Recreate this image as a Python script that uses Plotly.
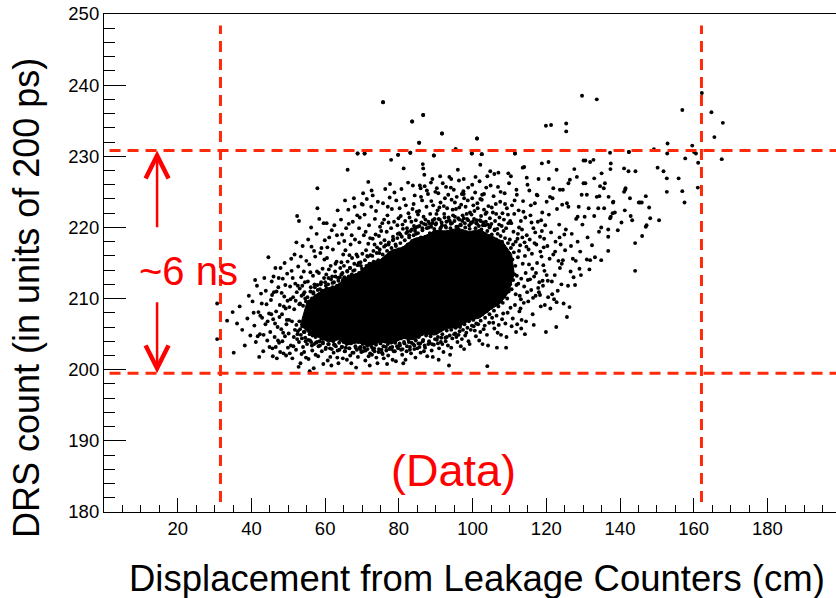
import plotly.graph_objects as go

# ---------------- data ----------------
# region of the cloud where the dots merge into solid black
core_x = [53.3, 56, 58.5, 61, 63.5, 66, 69, 72, 75, 78, 81, 84, 87, 90, 93, 96, 99, 102, 105, 107.5, 109.8,
          111.3, 110.6,
          108, 105, 102, 99, 96, 93, 90, 87, 84, 81, 78, 75, 72, 69, 66, 63, 60, 57, 55]
core_y = [206.3, 204.9, 204.5, 203.9, 204.2, 203.5, 203.8, 203.3, 203.9, 203.6, 204.4, 204.2, 205.0, 204.9, 205.8, 205.9, 206.9, 207.3, 208.5, 209.3, 210.9,
          213.5, 216.2,
          218.1, 218.8, 219.7, 219.4, 219.9, 219.5, 219.6, 218.8, 218.4, 217.2, 216.8, 215.5, 215.0, 213.6, 213.1, 211.8, 211.4, 210.4, 209.4]

# individual events at the edge of the dense core
edge_pts = [
    (52.2,206.3),(52.6,205.4),(53.0,206.8),(53.4,204.9),(53.8,206.1),(54.2,205.3),(54.6,204.5),(55.0,205.9),(55.4,204.2),(55.8,205.0),(56.2,203.9),(56.6,204.8),(57.0,203.6),(57.4,204.6),(57.8,203.9),(58.2,204.9),(58.6,203.4),(59.0,204.4),(59.4,203.7),(59.8,204.8),
    (60.2,203.1),(60.6,204.2),(61.0,203.6),(61.4,204.5),(61.8,202.9),(62.2,204.0),(62.6,203.5),(63.0,204.4),(63.4,202.7),(63.8,203.8),(64.2,204.3),(64.6,203.2),(65.0,203.9),(65.4,202.6),(65.8,203.6),(66.2,204.0),(66.6,203.0),(67.0,203.7),(67.4,202.4),(67.8,204.1),
    (68.2,203.3),(68.6,202.8),(69.0,203.9),(69.4,203.1),(69.8,202.5),(70.2,203.6),(70.6,204.1),(71.0,202.7),(71.4,203.4),(71.8,203.9),(72.2,202.3),(72.6,203.2),(73.0,203.8),(73.4,202.6),(73.8,203.5),(74.2,204.2),(74.6,202.9),(75.0,203.7),(75.4,202.4),(75.8,203.3),
    (76.2,204.0),(76.6,202.7),(77.0,203.6),(77.4,202.9),(77.8,203.9),(78.2,203.2),(78.6,202.6),(79.0,203.8),(79.4,204.3),(79.8,203.0),(80.2,203.7),(80.6,204.4),(81.0,202.9),(81.4,203.9),(81.8,204.6),(82.2,203.3),(82.6,204.2),(83.0,202.8),(83.4,203.8),(83.8,204.5),
    (84.2,203.4),(84.6,204.1),(85.0,203.0),(85.4,204.6),(85.8,203.7),(86.2,205.0),(86.6,204.2),(87.0,203.4),(87.4,204.8),(87.8,205.3),(88.2,204.0),(88.6,204.7),(89.0,203.6),(89.4,205.1),(89.8,204.3),(90.2,205.2),(90.6,204.6),(91.0,205.7),(91.4,203.9),(91.8,205.0),
    (92.2,205.9),(92.6,204.5),(93.0,205.5),(93.4,206.1),(93.8,204.8),(94.2,205.6),(94.6,206.3),(95.0,205.0),(95.4,205.9),(95.8,206.5),(96.2,204.9),(96.6,206.0),(97.0,206.8),(97.4,205.6),(97.8,206.4),(98.2,207.1),(98.6,205.9),(99.0,206.8),(99.4,207.3),(99.8,206.2),
    (100.2,207.0),(100.6,207.7),(101.0,206.5),(101.4,207.4),(101.8,208.1),(102.2,206.9),(102.6,207.8),(103.0,208.6),(103.4,207.3),(103.8,208.2),(104.2,209.0),(104.6,207.8),(105.0,208.7),(105.4,209.5),(105.8,208.3),(106.2,209.2),(106.6,210.0),(107.0,208.9),(107.4,209.7),(107.8,210.5),
    (108.2,209.4),(108.6,210.3),(109.0,211.1),(109.4,210.0),(109.8,211.0),(110.2,212.0),(110.6,211.3),(111.0,212.6),(111.4,213.4),
    (53.2,209.3),(53.6,210.4),(54.0,209.0),(54.4,210.9),(54.8,209.6),(55.2,210.2),(55.6,209.2),(56.0,211.0),(56.4,210.0),(56.8,210.7),(57.2,211.6),(57.6,210.3),(58.0,211.2),(58.4,210.6),(58.8,212.0),(59.2,211.1),(59.6,210.9),(60.0,212.3),(60.4,211.4),(60.8,212.0),
    (61.2,211.2),(61.6,212.7),(62.0,211.6),(62.4,212.3),(62.8,213.1),(63.2,211.8),(63.6,212.5),(64.0,211.9),(64.4,213.4),(64.8,212.6),(65.2,213.0),(65.6,212.5),(66.0,213.8),(66.4,213.1),(66.8,214.3),(67.2,213.4),(67.6,212.9),(68.0,214.0),(68.4,213.3),(68.8,214.7),
    (69.2,213.6),(69.6,215.1),(70.0,214.2),(70.4,213.8),(70.8,215.4),(71.2,214.6),(71.6,215.9),(72.0,214.9),(72.4,214.5),(72.8,216.0),(73.2,215.2),(73.6,214.8),(74.0,216.4),(74.4,215.4),(74.8,216.9),(75.2,215.1),(75.6,216.2),(76.0,217.3),(76.4,215.8),(76.8,216.7),
    (77.2,217.6),(77.6,216.4),(78.0,217.1),(78.4,218.2),(78.8,216.6),(79.2,217.4),(79.6,218.5),(80.0,216.9),(80.4,217.8),(80.8,218.7),(81.2,217.1),(81.6,218.2),(82.0,219.2),(82.4,217.6),(82.8,218.6),(83.2,219.5),(83.6,218.1),(84.0,218.9),(84.4,219.9),(84.8,218.3),
    (85.2,219.2),(85.6,220.2),(86.0,218.6),(86.4,219.6),(86.8,220.5),(87.2,218.7),(87.6,219.9),(88.0,220.8),(88.4,219.2),(88.8,220.1),(89.2,221.0),(89.6,219.4),(90.0,220.4),(90.4,219.3),(90.8,221.2),(91.2,219.8),(91.6,220.7),(92.0,219.2),(92.4,221.4),(92.8,220.0),
    (93.2,219.4),(93.6,221.0),(94.0,219.9),(94.4,220.6),(94.8,219.5),(95.2,221.5),(95.6,220.1),(96.0,219.7),(96.4,221.1),(96.8,220.3),(97.2,219.5),(97.6,221.3),(98.0,220.0),(98.4,219.3),(98.8,221.0),(99.2,219.8),(99.6,220.6),(100.0,219.2),(100.4,221.2),(100.8,219.9),
    (101.2,220.5),(101.6,219.4),(102.0,221.0),(102.4,219.7),(102.8,220.3),(103.2,219.1),(103.6,220.8),(104.0,219.5),(104.4,218.8),(104.8,220.2),(105.2,219.0),(105.6,218.5),(106.0,219.7),(106.4,218.3),(106.8,219.1),(107.2,217.9),(107.6,218.8),(108.0,218.0),(108.4,217.4),(108.8,218.5),
    (109.2,216.9),(109.6,217.8),(110.0,216.3),(110.4,217.1),(110.8,215.5),(111.2,216.5),(111.6,214.6),(112.0,213.2),(112.3,215.8),(111.9,211.9),
]

# individual events in the rest of the band (x = displacement [cm], y = DRS count)
cloud_pts = [
    (30.7,209.3),(30.7,204.3),(34.9,208.1),(35.2,202.4),(36.8,208.9),(37.5,205.6),(38.2,203.4),(38.9,207.2),(39.3,210.4),(36.1,206.5),(39.7,204.8),(33.4,206.9),
    (40.3,209.6),(40.8,206.2),(41.2,203.9),(41.5,211.8),(41.9,208.1),(42.3,205.0),(42.6,210.7),(42.9,207.3),(43.2,202.6),(43.5,212.9),(43.8,206.4),(44.1,209.2),(44.3,204.1),(44.6,215.8),(44.8,207.9),(40.6,208.0),(41.0,212.6),(41.7,204.7),(42.1,201.8),(42.8,209.3),(43.3,204.9),(43.9,211.1),(44.4,206.8),(44.9,203.2),(42.4,207.6),
    (45.1,205.3),(45.3,209.8),(45.5,212.4),(45.7,203.0),(45.9,207.1),(46.1,210.9),(46.3,204.6),(46.5,214.3),(46.7,208.2),(46.9,201.6),(47.1,206.0),(47.3,211.6),(47.5,203.8),(47.7,209.1),(47.9,214.3),(48.1,205.7),(48.3,207.8),(48.5,212.8),(48.7,202.3),(48.9,210.3),(49.1,204.7),(49.3,208.6),(49.5,206.4),(49.7,213.5),(49.9,203.1),(45.4,207.8),(45.8,201.9),(46.0,213.1),(46.4,206.5),(46.8,211.0),(47.2,204.1),(47.6,207.4),(47.8,202.5),(48.2,210.8),(48.6,205.2),(48.8,208.9),(49.2,211.9),(49.4,202.0),(49.6,207.0),(49.8,209.7),(45.6,210.5),(46.6,203.2),(47.4,212.9),(48.4,204.0),(49.0,215.0),
    (50.1,205.1),(50.3,208.8),(50.5,211.7),(50.7,203.4),(50.9,213.9),(51.1,201.6),(51.3,210.2),(51.5,204.6),(51.7,216.2),(51.9,212.1),(52.1,202.8),(52.3,210.9),(52.5,205.0),(52.7,214.5),(52.9,203.9),(53.1,211.4),(53.3,200.9),(53.5,213.0),(53.7,204.4),(53.9,217.4),(54.1,210.6),(54.3,202.5),(54.5,212.3),(54.7,204.0),(54.9,215.3),(50.2,207.0),(50.4,202.3),(50.6,209.9),(50.8,215.6),(51.0,206.8),(51.2,212.9),(51.4,203.3),(51.6,208.5),(51.8,205.6),(52.0,209.7),(52.2,217.9),(52.4,204.3),(52.6,211.8),(52.8,200.4),(53.0,209.2),(53.2,205.7),(53.4,215.9),(53.6,202.2),(53.8,211.8),(54.0,203.2),(54.2,213.8),(54.4,205.3),(54.6,210.0),(54.8,201.7),(52.4,221.6),(52.9,220.9),
    (55.1,203.6),(55.3,212.4),(55.5,201.5),(55.7,214.8),(55.9,204.1),(56.1,211.6),(56.3,217.3),(56.5,202.7),(56.7,213.2),(56.9,200.2),(57.1,212.0),(57.3,215.9),(57.5,203.8),(57.7,219.1),(57.9,211.9),(58.1,201.9),(58.3,213.6),(58.5,204.0),(58.7,216.4),(58.9,212.3),(59.1,202.6),(59.3,214.2),(59.5,200.8),(59.7,212.9),(59.9,218.2),(55.2,206.9),(55.6,209.6),(55.8,199.8),(56.0,213.7),(56.4,203.4),(56.8,210.9),(57.0,216.7),(57.4,202.1),(57.8,213.8),(58.2,203.3),(58.6,211.3),(59.0,217.1),(59.4,203.9),(59.8,215.5),(57.9,225.5),(57.9,222.7),(56.2,220.0),(58.4,221.2),(55.4,218.3),(59.6,220.6),
    (60.1,202.9),(60.3,213.4),(60.5,215.7),(60.7,201.3),(60.9,212.9),(61.1,218.6),(61.3,203.0),(61.5,214.6),(61.7,200.6),(61.9,213.1),(62.1,216.9),(62.3,202.4),(62.5,220.3),(62.7,213.8),(62.9,203.3),(63.1,215.2),(63.3,201.7),(63.5,212.9),(63.7,217.8),(63.9,202.8),(64.1,214.3),(64.3,221.1),(64.5,203.2),(64.7,213.6),(64.9,216.2),(60.2,211.8),(60.6,217.2),(60.8,203.6),(61.0,214.1),(61.4,201.8),(61.8,219.6),(62.0,212.2),(62.4,203.5),(62.8,214.9),(63.2,218.9),(63.6,200.9),(64.0,213.0),(64.4,215.1),(64.8,201.6),(60.4,220.6),(63.4,222.4),(64.6,219.0),
    (65.1,214.6),(65.3,202.6),(65.5,216.8),(65.7,219.9),(65.9,201.4),(66.1,215.2),(66.3,222.5),(66.5,203.0),(66.7,214.3),(66.9,217.6),(67.1,200.9),(67.3,215.7),(67.5,220.8),(67.7,202.4),(67.9,214.9),(68.1,218.3),(68.3,203.1),(68.5,216.2),(68.7,221.7),(68.9,201.8),(69.1,215.0),(69.3,217.9),(69.5,202.9),(69.7,214.6),(69.9,223.3),(65.2,218.1),(65.6,203.1),(66.0,213.9),(66.4,220.5),(66.8,202.0),(67.2,218.9),(67.6,213.9),(68.0,222.9),(68.4,200.3),(68.8,215.9),(69.2,219.9),(69.6,203.2),(66.1,228.1),(65.4,223.8),(67.8,224.1),(69.4,221.4),(66.6,216.1),
    (70.1,216.3),(70.3,202.6),(70.5,218.9),(70.7,221.8),(70.9,201.3),(71.1,216.8),(71.3,224.0),(71.5,202.9),(71.7,217.7),(71.9,220.3),(72.1,200.6),(72.3,216.1),(72.5,222.9),(72.7,202.1),(72.9,218.4),(73.1,216.7),(73.3,203.0),(73.5,221.2),(73.7,219.0),(73.9,201.7),(74.1,217.2),(74.3,223.6),(74.5,202.5),(74.7,216.4),(74.9,220.1),(70.2,223.2),(70.6,203.1),(71.0,219.4),(71.4,216.0),(71.8,201.9),(72.2,218.5),(72.6,225.2),(73.0,202.8),(73.4,217.6),(73.8,222.3),(74.2,200.9),(74.6,218.8),(70.3,224.8),(72.9,224.5),(71.7,226.4),(68.8,230.4),(70.7,230.4),
    (75.1,217.8),(75.3,202.8),(75.5,220.6),(75.7,223.4),(75.9,201.6),(76.1,218.2),(76.3,225.4),(76.5,203.2),(76.7,219.4),(76.9,221.7),(77.1,202.0),(77.3,217.9),(77.5,224.2),(77.7,203.1),(77.9,219.9),(78.1,222.6),(78.3,201.4),(78.5,218.3),(78.7,220.8),(78.9,202.6),(79.1,217.6),(79.3,223.8),(79.5,203.3),(79.7,219.1),(79.9,221.3),(75.2,219.5),(75.6,202.2),(76.0,221.1),(76.4,217.5),(76.8,200.8),(77.2,220.7),(77.6,226.1),(78.0,202.9),(78.4,218.7),(78.8,224.9),(79.2,201.2),(79.6,220.3),(77.9,229.5),(75.7,237.6),(79.8,230.2),(77.0,222.9),
    (80.1,219.2),(80.3,203.4),(80.5,221.6),(80.7,225.4),(80.9,202.1),(81.1,219.8),(81.3,228.3),(81.5,203.7),(81.7,220.9),(81.9,223.1),(82.1,202.6),(82.3,219.4),(82.5,226.3),(82.7,203.9),(82.9,221.4),(83.1,230.5),(83.3,202.3),(83.5,219.7),(83.7,222.6),(83.9,203.6),(84.1,220.2),(84.3,224.5),(84.5,201.7),(84.7,219.1),(84.9,222.2),(80.2,222.7),(80.6,202.8),(81.0,220.4),(81.4,224.0),(81.8,201.4),(82.2,219.9),(82.6,222.0),(83.0,203.2),(83.4,220.8),(83.8,225.9),(84.2,202.9),(84.6,221.0),(83.6,234.9),(84.0,223.3),(81.2,200.9),(82.8,218.9),(84.4,219.5),(80.4,219.0),
    (85.1,220.1),(85.3,203.7),(85.5,222.3),(85.7,225.9),(85.9,202.4),(86.1,220.7),(86.3,223.8),(86.5,204.0),(86.7,221.5),(86.9,227.4),(87.1,203.1),(87.3,220.4),(87.5,222.9),(87.7,201.9),(87.9,224.7),(88.1,220.0),(88.3,203.8),(88.5,221.9),(88.7,226.3),(88.9,202.7),(89.1,220.6),(89.3,223.1),(89.5,203.5),(89.7,221.2),(89.9,225.0),(85.2,221.8),(85.6,203.2),(86.0,224.3),(86.4,219.9),(86.8,202.6),(87.2,221.1),(87.6,225.2),(88.0,203.6),(88.4,220.5),(88.8,223.7),(89.2,201.8),(89.6,219.8),(85.5,231.9),(86.6,235.8),(89.5,230.1),(86.5,228.9),(86.6,228.3),(85.9,225.5),(87.0,225.8),(89.1,226.8),
    (90.1,220.6),(90.3,204.2),(90.5,222.4),(90.7,224.8),(90.9,203.0),(91.1,221.1),(91.3,223.5),(91.5,204.5),(91.7,220.3),(91.9,226.2),(92.1,202.5),(92.3,221.9),(92.5,224.1),(92.7,204.0),(92.9,220.8),(93.1,222.7),(93.3,203.4),(93.5,221.4),(93.7,227.1),(93.9,202.1),(94.1,220.5),(94.3,223.9),(94.5,204.4),(94.7,221.7),(94.9,225.3),(90.2,221.9),(90.6,203.7),(91.0,222.8),(91.4,220.0),(91.8,203.6),(92.2,223.0),(92.6,220.2),(93.0,204.6),(93.4,224.6),(93.8,220.9),(94.2,203.1),(94.6,222.5),(91.7,233.2),(91.2,227.2),(90.3,225.5),(92.8,225.7),(94.1,225.6),(94.2,226.8),(90.8,201.4),(93.6,200.6),
    (95.1,220.9),(95.3,205.1),(95.5,222.6),(95.7,224.3),(95.9,203.9),(96.1,221.3),(96.3,226.6),(96.5,205.4),(96.7,220.4),(96.9,223.2),(97.1,204.3),(97.3,221.7),(97.5,225.1),(97.7,202.9),(97.9,220.6),(98.1,222.9),(98.3,205.2),(98.5,221.2),(98.7,223.8),(98.9,204.0),(99.1,220.3),(99.3,222.1),(99.5,205.6),(99.7,221.8),(99.9,226.0),(95.2,223.5),(95.6,204.6),(96.0,220.1),(96.4,222.8),(96.8,203.3),(97.2,220.9),(97.6,224.7),(98.0,204.8),(98.4,221.9),(98.8,225.6),(99.2,203.6),(99.6,220.7),(95.4,231.0),(96.0,228.1),(97.1,224.7),(97.7,224.1),(99.9,224.1),(97.6,226.8),(99.8,230.4),
    (100.1,220.8),(100.3,206.1),(100.5,222.3),(100.7,224.9),(100.9,204.7),(101.1,221.0),(101.3,223.4),(101.5,206.4),(101.7,220.2),(101.9,226.5),(102.1,205.3),(102.3,221.6),(102.5,223.9),(102.7,203.6),(102.9,220.7),(103.1,222.5),(103.3,206.2),(103.5,221.9),(103.7,225.6),(103.9,204.9),(104.1,220.4),(104.3,223.0),(104.5,206.6),(104.7,221.3),(104.9,225.9),(100.2,223.1),(100.6,205.5),(101.0,220.6),(101.4,222.7),(101.8,204.1),(102.2,220.9),(102.6,224.6),(103.0,205.7),(103.4,220.3),(103.8,222.1),(104.2,203.4),(104.6,220.0),(101.2,232.5),(102.5,230.3),(102.1,228.8),(100.8,227.1),(104.0,227.2),(103.1,224.7),(102.1,224.0),(104.0,200.5),
    (105.1,220.5),(105.3,207.3),(105.5,222.1),(105.7,224.4),(105.9,205.8),(106.1,220.9),(106.3,223.3),(106.5,207.6),(106.7,219.8),(106.9,225.7),(107.1,206.3),(107.3,221.4),(107.5,223.6),(107.7,204.9),(107.9,220.2),(108.1,222.0),(108.3,207.9),(108.5,221.1),(108.7,224.8),(108.9,206.5),(109.1,219.9),(109.3,222.7),(109.5,208.0),(109.7,220.6),(109.9,226.2),(105.2,222.8),(105.6,206.6),(106.0,219.6),(106.4,221.9),(106.8,205.2),(107.2,220.4),(107.6,225.0),(108.0,207.1),(108.4,219.5),(108.8,223.3),(109.2,204.6),(109.6,221.8),(104.8,227.9),(105.9,227.5),(107.0,227.7),(109.7,227.6),(106.6,203.1),(109.1,203.1),
    (110.1,218.3),(110.3,208.7),(110.5,220.6),(110.7,223.1),(110.9,207.2),(111.1,219.4),(111.3,221.9),(111.5,209.1),(111.7,218.0),(111.9,225.3),(112.1,206.4),(112.3,219.1),(112.5,222.4),(112.7,208.2),(112.9,217.5),(113.1,220.9),(113.3,207.0),(113.5,218.6),(113.7,223.7),(113.9,209.4),(114.1,217.9),(114.3,221.4),(114.5,206.8),(114.7,218.9),(114.9,226.0),(110.2,220.9),(110.6,206.1),(111.0,217.6),(111.4,223.8),(111.8,205.3),(112.2,218.4),(112.6,220.0),(113.0,208.6),(113.4,219.7),(113.8,222.2),(114.2,205.0),(114.6,217.3),(113.2,205.8),(111.5,230.4),(113.6,228.4),(114.0,228.5),(114.7,227.0),(110.4,227.2),(112.0,224.6),(114.8,210.9),(115.0,212.6),
    (112.8,210.4),(113.2,212.8),(113.6,214.9),(114.0,211.7),(114.4,213.6),(114.2,216.0),(112.6,216.7),(113.1,209.9),(111.7,210.6),(112.4,212.1),
    (115.1,209.6),(115.3,214.8),(115.5,218.3),(115.7,221.7),(115.9,211.2),(116.1,216.3),(116.3,207.8),(116.5,219.9),(116.7,213.1),(116.9,223.4),(117.1,210.4),(117.3,217.6),(117.5,215.0),(117.7,220.8),(117.9,226.8),(118.1,212.3),(118.3,218.7),(118.5,208.9),(118.7,215.9),(118.9,222.1),(119.1,211.8),(119.3,217.2),(119.5,213.9),(119.7,220.3),(119.9,205.3),(115.2,216.9),(115.6,212.7),(116.0,220.7),(116.4,210.1),(116.8,217.8),(117.2,213.6),(117.6,224.5),(118.0,210.9),(118.4,216.6),(118.8,219.5),(119.2,214.7),(119.6,209.1),(117.4,224.6),(118.8,229.0),(118.3,210.5),(119.0,212.5),(115.4,225.2),(116.6,206.3),(117.0,219.3),(118.6,221.0),(115.8,223.1),(116.2,214.2),(117.8,211.5),(119.4,218.4),
    (120.1,213.3),(120.3,217.4),(120.5,210.2),(120.7,221.8),(120.9,215.6),(121.1,208.6),(121.3,219.3),(121.5,212.4),(121.7,224.1),(121.9,216.2),(122.1,209.9),(122.3,213.3),(122.5,218.0),(122.7,206.0),(122.9,222.6),(123.1,211.1),(123.3,215.3),(123.5,220.4),(123.7,214.3),(123.9,217.6),(124.1,212.0),(124.3,223.2),(124.5,215.4),(124.7,209.3),(124.9,219.0),(120.6,229.2),(120.7,226.8),(121.0,224.3),(120.1,223.6),(121.9,225.5),(122.8,228.1),(122.8,209.5),(123.7,225.3),(124.5,225.3),(120.4,212.5),(121.6,210.6),(122.4,216.6),(123.6,218.6),(124.2,214.9),
    (125.1,216.8),(125.6,207.4),(125.6,223.4),(126.0,222.9),(126.0,226.2),(126.3,208.8),(126.4,226.7),(126.6,213.8),(126.9,219.1),(127.2,215.6),(127.6,228.2),(127.8,211.9),(128.1,221.2),(128.3,227.1),(128.5,218.0),(128.5,221.5),(128.8,222.9),(129.0,214.2),(129.2,216.6),(129.4,213.3),(129.6,224.6),(125.3,219.7),(125.9,211.8),(126.7,217.4),(127.4,213.0),(128.0,215.3),(129.8,220.4),
    (130.1,229.4),(130.1,226.2),(130.6,229.4),(130.6,226.2),(131.0,224.6),(131.0,215.5),(131.5,222.7),(131.7,214.1),(131.9,229.2),(131.9,215.4),(132.8,229.5),(133.0,226.9),(133.0,221.6),(133.2,215.8),(133.7,224.3),(134.1,222.7),(134.4,224.4),(134.6,225.8),(134.9,220.0),(134.3,219.4),(134.9,215.4),(132.4,217.5),(131.2,218.6),(130.4,221.5),
    (135.0,227.6),(135.6,225.5),(135.7,222.7),(135.9,226.2),(136.8,216.7),(136.8,218.7),(136.8,219.7),(136.9,224.3),(137.3,221.3),(137.3,230.5),(137.4,228.2),(137.5,229.0),(137.5,221.5),(138.0,222.0),(138.1,223.5),(138.2,223.6),(138.6,222.1),(139.4,219.6),
    (140.4,220.7),(141.1,228.3),(141.1,225.0),(141.3,222.4),(141.4,225.3),(142.3,227.9),(142.4,230.6),(142.7,224.1),(142.9,221.6),(143.3,221.0),(144.1,217.8),(144.1,213.9),(144.2,227.9),(141.5,225.5),
    (145.1,223.5),(145.9,223.5),(146.0,218.8),(147.0,224.4),(147.0,220.1),(147.9,222.8),(148.2,221.3),(149.2,231.0),(147.2,220.3),(145.4,223.5),
    (150.2,228.4),(150.6,221.0),(151.8,227.9),(152.7,225.0),(152.7,226.9),(152.8,230.4),(152.9,231.8),(155.9,226.9),(156.9,225.1),(157.5,223.5),(157.7,229.7),(159.6,231.5),
    (160.1,230.6),(160.6,230.4),(161.1,225.6),(161.2,229.1),(165.6,232.7),(167.6,229.6),
]

# sparse events well above the band
outlier_pts = [
    (75.7,237.6),(86.6,235.8),(83.6,234.9),(91.7,233.2),(85.5,231.9),(95.4,231.0),(101.2,232.5),
    (68.8,230.4),(70.7,230.4),(79.8,230.2),(83.1,230.5),(89.5,230.1),(99.8,230.4),(102.5,230.3),
    (119.9,234.3),(121.3,234.4),(125.4,234.6),(125.4,233.5),(129.7,238.5),(133.7,238.0),
    (156.9,236.5),(162.2,238.9),(164.8,236.2),(167.9,234.7),(111.5,230.4),(142.4,230.6),
]

# selection cuts
cut_x = [31.6, 162.1]
cut_y = [199.5, 230.8]

x_ticks = [20, 40, 60, 80, 100, 120, 140, 160, 180]
y_ticks = [180, 190, 200, 210, 220, 230, 240, 250]

# ---------------- figure ----------------
RED_LINE = "#ff2a0a"
RED_TXT = "#ff0000"
FONT = "Liberation Sans, Arial, Helvetica, sans-serif"

all_pts = edge_pts + cloud_pts + outlier_pts
fig = go.Figure()
fig.add_trace(go.Scatter(
    x=core_x + [core_x[0]], y=core_y + [core_y[0]], mode="lines", fill="toself",
    fillcolor="black", line=dict(color="black", width=1), hoverinfo="skip", showlegend=False))
fig.add_trace(go.Scatter(
    x=[p[0] for p in all_pts], y=[p[1] for p in all_pts], mode="markers",
    marker=dict(color="black", size=3.9, line=dict(width=0)), showlegend=False))

shapes = []
for yc in cut_y:
    shapes.append(dict(type="line", xref="x", yref="y", x0=1.5, x1=198.6, y0=yc, y1=yc,
                       line=dict(color=RED_LINE, width=3, dash="11px,7px")))
for xc in cut_x:
    shapes.append(dict(type="line", xref="x", yref="y", x0=xc, x1=xc, y0=181.4, y1=248.4,
                       line=dict(color=RED_LINE, width=3, dash="11px,7px")))

annotations = [
    # arrows showing the ~6 ns window
    dict(x=14.4, y=cut_y[1], ax=14.4, ay=219.8, xref="x", yref="y", axref="x", ayref="y",
         text="", showarrow=True, arrowhead=5, arrowsize=1.8, arrowwidth=2.5, arrowcolor=RED_TXT),
    dict(x=14.4, y=cut_y[0], ax=14.4, ay=209.7, xref="x", yref="y", axref="x", ayref="y",
         text="", showarrow=True, arrowhead=5, arrowsize=1.8, arrowwidth=2.5, arrowcolor=RED_TXT),
    dict(x=22.9, y=213.9, xref="x", yref="y", text="~6 ns", showarrow=False,
         font=dict(family=FONT, size=40, color=RED_TXT), xanchor="center", yanchor="middle"),
    dict(x=94.7, y=185.9, xref="x", yref="y", text="(Data)", showarrow=False,
         font=dict(family=FONT, size=45, color=RED_TXT), xanchor="center", yanchor="middle"),
    # axis titles
    dict(x=0.509, y=-0.1345, xref="paper", yref="paper", text="Displacement from Leakage Counters (cm)",
         showarrow=False, font=dict(family=FONT, size=36.5, color="black"),
         xanchor="center", yanchor="middle"),
    dict(x=-0.1059, y=0.4307, xref="paper", yref="paper", text="DRS count (in units of 200 ps)",
         showarrow=False, textangle=-90, font=dict(family=FONT, size=36, color="black"),
         xanchor="center", yanchor="middle"),
]

fig.update_layout(
    width=836, height=598,
    margin=dict(l=104, r=0, t=14, b=86),
    paper_bgcolor="white", plot_bgcolor="white",
    shapes=shapes, annotations=annotations,
    showlegend=False,
    font=dict(family=FONT, color="black"),
    xaxis=dict(range=[0, 198.6], showgrid=False, zeroline=False,
               showline=True, linecolor="black", linewidth=1.2, mirror=True,
               ticks="inside", ticklen=14, tickwidth=1.2, tickcolor="black",
               tickmode="array", tickvals=x_ticks, ticktext=[str(v) for v in x_ticks],
               tickfont=dict(family=FONT, size=18.5, color="black"),
               minor=dict(ticks="inside", ticklen=7, tickwidth=1.2, tickcolor="black",
                          dtick=5, tick0=0, showgrid=False)),
    yaxis=dict(range=[180, 250], showgrid=False, zeroline=False,
               showline=True, linecolor="black", linewidth=1.2, mirror=False,
               ticks="inside", ticklen=22, tickwidth=1.2, tickcolor="black",
               tickmode="array", tickvals=y_ticks, ticktext=[str(v) for v in y_ticks],
               tickfont=dict(family=FONT, size=18.5, color="black"),
               minor=dict(ticks="inside", ticklen=11, tickwidth=1.2, tickcolor="black",
                          dtick=2, tick0=180, showgrid=False)),
)

fig.write_html("out.html")
